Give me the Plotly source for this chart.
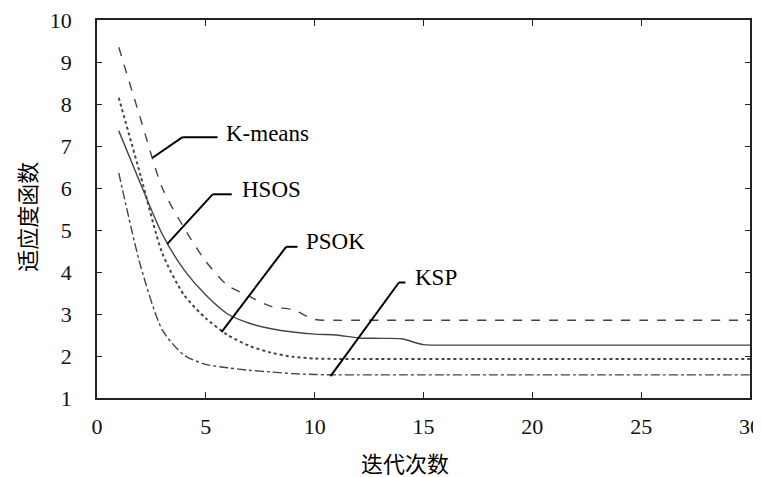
import plotly.graph_objects as go

iterations = list(range(1, 31))
kmeans = [9.35, 7.65, 6.00, 5.05, 4.25, 3.68, 3.42, 3.18, 3.10, 2.87,
          2.85, 2.85, 2.85, 2.85, 2.85, 2.85, 2.85, 2.85, 2.85, 2.85,
          2.85, 2.85, 2.85, 2.85, 2.85, 2.85, 2.85, 2.85, 2.85, 2.85]
hsos = [7.36, 6.10, 4.90, 4.05, 3.45, 3.00, 2.78, 2.65, 2.57, 2.52,
        2.50, 2.43, 2.42, 2.41, 2.27, 2.26, 2.26, 2.26, 2.26, 2.26,
        2.26, 2.26, 2.26, 2.26, 2.26, 2.26, 2.26, 2.26, 2.26, 2.26]
psok = [8.15, 6.30, 4.45, 3.45, 2.90, 2.50, 2.24, 2.08, 1.98, 1.94,
        1.93, 1.93, 1.93, 1.93, 1.93, 1.93, 1.93, 1.93, 1.93, 1.93,
        1.93, 1.93, 1.93, 1.93, 1.93, 1.93, 1.93, 1.93, 1.93, 1.93]
ksp = [6.36, 4.15, 2.62, 2.02, 1.80, 1.72, 1.66, 1.62, 1.58, 1.56,
       1.55, 1.55, 1.55, 1.55, 1.55, 1.55, 1.55, 1.55, 1.55, 1.55,
       1.55, 1.55, 1.55, 1.55, 1.55, 1.55, 1.55, 1.55, 1.55, 1.55]

series_names = ["K-means", "HSOS", "PSOK", "KSP"]
series_vals = [kmeans, hsos, psok, ksp]
series_dash = ["dash", "solid", "dot", "dashdot"]
series_width = [1.4, 1.4, 2.0, 1.4]

# callout labels: (pointer end x, y), (elbow x, y), (line end x), (text x, y)
callout_tip = [(2.55, 6.72), (3.23, 4.67), (5.72, 2.57), (10.73, 1.52)]
callout_elbow = [(3.93, 7.21), (5.31, 5.85), (8.69, 4.60), (13.87, 3.75)]
callout_end_x = [5.54, 6.19, 9.21, 14.17]
callout_text = [(5.85, 7.30), (6.55, 5.97), (9.50, 4.72), (14.52, 3.87)]

x_ticks = [0, 5, 10, 15, 20, 25, 30]
y_ticks = [1, 2, 3, 4, 5, 6, 7, 8, 9, 10]

FONT = "'Liberation Serif', 'Times New Roman', serif"
CJK = "'Noto Sans CJK SC', sans-serif"

fig = go.Figure()
for name, vals, dash, w in zip(series_names, series_vals, series_dash, series_width):
    fig.add_trace(go.Scatter(
        x=iterations, y=vals, mode="lines", name=name,
        line=dict(color="#444444", width=w, dash=dash, shape="spline", smoothing=0.7),
        showlegend=False,
    ))

for name, tip, elbow, ex, tx in zip(series_names, callout_tip, callout_elbow, callout_end_x, callout_text):
    fig.add_shape(type="line", x0=tip[0], y0=tip[1], x1=elbow[0], y1=elbow[1],
                  xref="x", yref="y", line=dict(color="black", width=2))
    fig.add_shape(type="line", x0=elbow[0], y0=elbow[1], x1=ex, y1=elbow[1],
                  xref="x", yref="y", line=dict(color="black", width=2))
    fig.add_annotation(x=tx[0], y=tx[1], xref="x", yref="y", text=name,
                       showarrow=False, xanchor="left", yanchor="middle",
                       font=dict(family=FONT, size=23, color="black"))

fig.add_annotation(x=0.472, y=-0.168, xref="paper", yref="paper", text="迭代次数",
                   showarrow=False, xanchor="center", yanchor="middle",
                   font=dict(family=CJK, size=22, color="black"))
fig.add_annotation(x=-0.110, y=0.48, xref="paper", yref="paper", text="适应度函数",
                   showarrow=False, textangle=-90, xanchor="center", yanchor="middle",
                   font=dict(family=CJK, size=22, color="black"))

fig.update_xaxes(range=[0, 30], tickvals=x_ticks, ticks="inside", ticklen=6,
                 tickcolor="#222", showline=True, linecolor="#222", linewidth=1.5,
                 mirror="ticks", showgrid=False, zeroline=False, automargin=False,
                 ticklabeloverflow="allow",
                 tickfont=dict(family=FONT, size=22, color="#111"), ticklabelstandoff=8)
fig.update_yaxes(range=[1, 10], tickvals=y_ticks, ticks="inside", ticklen=5,
                 tickcolor="#222", showline=True, linecolor="#222", linewidth=1.5,
                 mirror="ticks", showgrid=False, zeroline=False, automargin=False,
                 ticklabeloverflow="allow",
                 tickfont=dict(family=FONT, size=22, color="#111"), ticklabelstandoff=19)

fig.update_layout(width=761, height=477, plot_bgcolor="white", paper_bgcolor="white",
                  margin=dict(l=89, r=19, t=12, b=87, autoexpand=False))

fig.write_html("out.html")
